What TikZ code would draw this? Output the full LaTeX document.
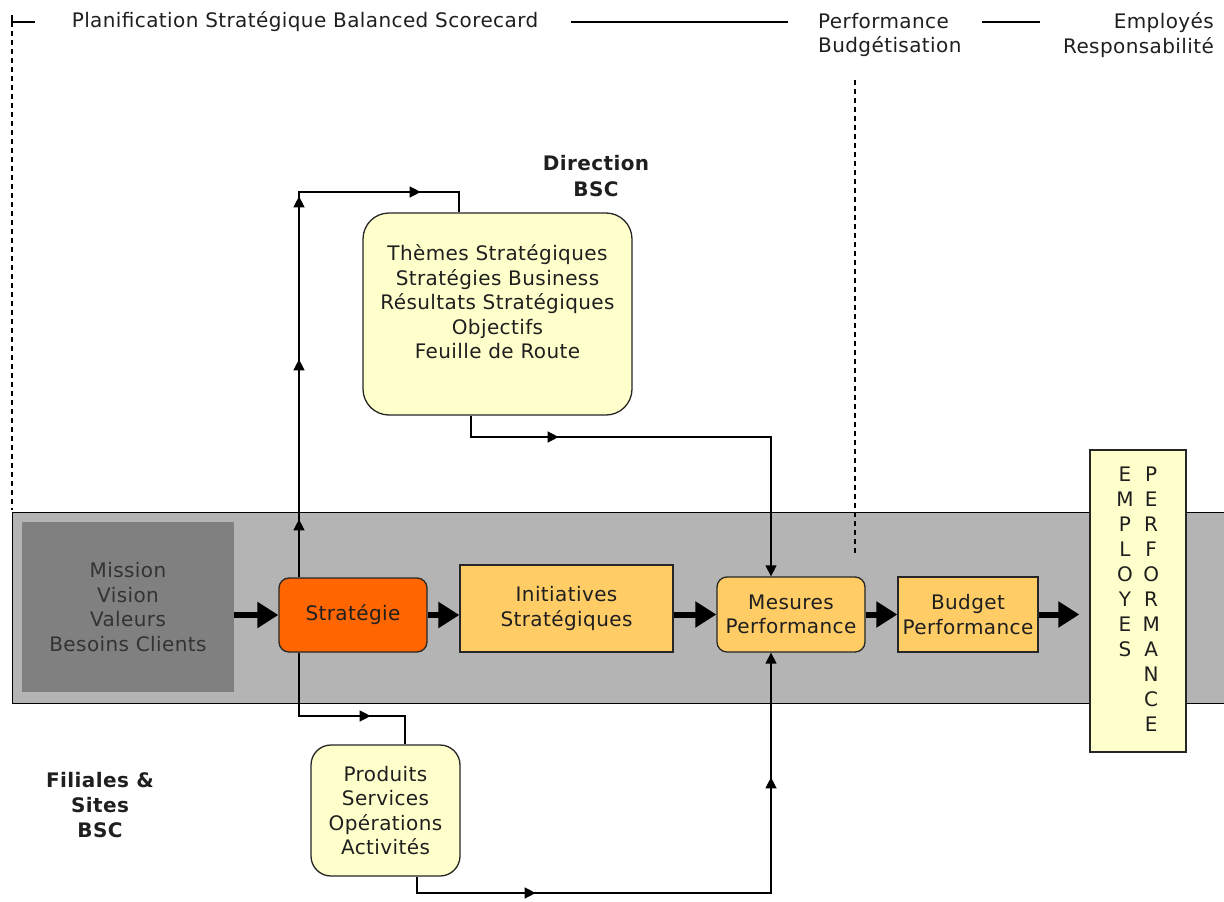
\documentclass[tikz,border=0pt]{standalone}
\usepackage{fontspec}
\setmainfont{DejaVu Sans}[LetterSpace=2]
\usetikzlibrary{arrows.meta,backgrounds,decorations.markings}

\definecolor{bandgray}{HTML}{B4B4B4}
\definecolor{coregray}{HTML}{808080}
\definecolor{stratorange}{HTML}{FF6600}
\definecolor{planorange}{HTML}{FFCC66}
\definecolor{paleyellow}{HTML}{FFFFCC}

\begin{document}
\begin{tikzpicture}[
  x=1pt,
  y=-1pt,
  every node/.style={font=\fontsize{20}{24.5}\selectfont, text=black!88},
  header/.style={inner sep=0pt},
  tag/.style={font=\fontsize{20}{26}\selectfont\bfseries, align=center, inner sep=0pt},
  band/.style={
    draw,
    line width=1.3pt,
    fill=bandgray,
    anchor=north west,
    minimum width=1225pt,
    minimum height=191pt
  },
  corebox/.style={
    fill=coregray,
    text=black!80,
    align=center,
    minimum width=212pt,
    minimum height=170pt
  },
  stepbox/.style={
    draw=black!85,
    line width=1.3pt,
    align=center,
    inner sep=2pt,
    fill=#1
  },
  softbox/.style={
    draw=black!85,
    line width=1.3pt,
    align=center,
    inner sep=2pt,
    rounded corners=#1,
    fill=paleyellow
  },
  link/.style={line width=1.4pt},
  tip/.style={-{Triangle[length=11pt,width=11pt]}},
  midtip/.style={postaction={decorate,
    decoration={markings, mark=at position #1 with {\arrow{Triangle[length=11pt,width=11pt]}}}}},
  flow/.style={line width=6pt, -{Triangle[length=21pt,width=25pt]}},
  guide/.style={line width=1.2pt, dash pattern=on 5pt off 4pt},
  rule/.style={line width=1.3pt}
]
\useasboundingbox (0,0) rectangle (1224,902);

% header
\coordinate (planstart) at (12,22);
\node[header] (plan) at (305,22) {Planification Stratégique Balanced Scorecard};
\node[header, align=left, anchor=west] (perf) at (818,35) {Performance\\Budgétisation};
\node[header, align=right, anchor=east] (resp) at (1214,35) {Employés\\Responsabilité};

% main band
\begin{scope}[on background layer]
  \node[band] (band) at (12,512) {};
\end{scope}

\node[corebox] (mission) at (128,607) {Mission\\Vision\\Valeurs\\Besoins Clients};
\node[stepbox=stratorange, rounded corners=10pt, minimum width=148pt, minimum height=74pt] (strategie) at (353,615) {Stratégie};
\node[stepbox=planorange, minimum width=213pt, minimum height=87pt] (initiatives) at (566.5,608.5) {Initiatives\\Stratégiques};
\node[stepbox=planorange, rounded corners=10pt, minimum width=148pt, minimum height=75pt] (mesures) at (791,614.5) {Mesures\\Performance};
\node[stepbox=planorange, minimum width=140pt, minimum height=75pt] (budget) at (968,614.5) {Budget\\Performance};
\node[stepbox=paleyellow, minimum width=96pt, minimum height=302pt, font=\fontsize{20}{25}\selectfont] (employes) at (1138,601)
  {\raisebox{11pt}{\begin{tabular}{@{}c@{\hspace{9pt}}c@{}}E&P\\M&E\\P&R\\L&F\\O&O\\Y&R\\E&M\\S&A\\&N\\&C\\&E\end{tabular}}};

% BSC boxes
\node[softbox=26pt, minimum width=269pt, minimum height=202pt] (themes) at (497.5,314)
  {Thèmes Stratégiques\\Stratégies Business\\Résultats Stratégiques\\Objectifs\\Feuille de Route\\ \mbox{}};
\node[softbox=20pt, minimum width=149pt, minimum height=131pt] (produits) at (385.5,810.5)
  {Produits\\Services\\Opérations\\Activités};
\node[tag] (direction) at (596,176) {Direction\\BSC};
\node[tag, font=\fontsize{20}{25}\selectfont\bfseries] (filiales) at (100,805) {Filiales \&\\Sites\\BSC};

\coordinate (looptop) at (299,192);
\coordinate (loopbot) at (299,716);
\coordinate (mestop) at (771,437);
\coordinate (mesbot) at (771,893);
\coordinate (budgcuttop) at (855,80);
\coordinate (budgcut) at (855,555);

% header rules
\draw[rule] ([yshift=7pt]planstart) -- (planstart) -- ([xshift=23pt]planstart);
\draw[rule] ([xshift=33pt]plan.east) -- ([xshift=-30pt]plan.east -| perf.west);
\draw[rule] ([xshift=20pt]perf.east |- plan.east) -- ([xshift=-23pt]resp.west |- plan.east);
\draw[guide] (planstart) -- ([yshift=2pt]planstart |- band.north);
\draw[guide] (budgcuttop) -- (budgcut);

% main flow
\draw[flow] (mission.east |- strategie) -- (strategie.west);
\draw[flow] (strategie.east) -- (initiatives.west |- strategie.east);
\draw[flow] (initiatives.east |- mesures) -- (mesures.west);
\draw[flow] (mesures) -- (budget);
\draw[flow, shorten >=10pt] (budget) -- (budget -| employes.west);

% loops
\draw[link, midtip=58pt, midtip=218pt, midtip=381pt, midtip=507pt]
  (strategie.north -| looptop) -- (looptop) -| ([xshift=-38.5pt]themes.north);
\draw[link, midtip=135pt]
  (strategie.south -| loopbot) -- (loopbot) -| ([xshift=19.5pt]produits.north);
\draw[link, tip, midtip=109pt]
  ([xshift=-26.5pt]themes.south) |- (mestop) -- (mesures.north -| mestop);
\draw[link, tip, midtip=135pt, midtip=486pt]
  ([xshift=31.5pt]produits.south) |- (mesbot) -- (mesures.south -| mesbot);
\end{tikzpicture}
\end{document}
